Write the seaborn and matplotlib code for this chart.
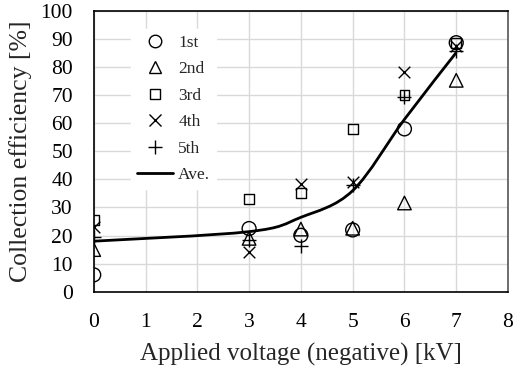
import numpy as np
import pandas as pd
import seaborn as sns
import matplotlib
matplotlib.use("Agg")
import matplotlib.pyplot as plt
from matplotlib.path import Path
from matplotlib.patches import PathPatch
from matplotlib.lines import Line2D

# ---- data ----
voltage = [0, 3, 4, 5, 6, 7]
run_1st = [6.0, 22.5, 20.1, 22.0, 58.0, 88.7]
run_2nd = [15.0, 19.0, 22.3, 22.6, 31.6, 75.3]
run_3rd = [25.5, 33.0, 35.1, 58.0, 70.0, 88.5]
run_4th = [23.0, 14.0, 38.5, 39.0, 78.2, 87.5]
run_5th = [19.5, 18.5, 16.3, 38.0, 69.3, 85.7]
average = [18.0, 21.4, 26.5, 36.0, 61.4, 85.2]
run_labels = ["1st", "2nd", "3rd", "4th", "5th"]
x_ticks = [0, 1, 2, 3, 4, 5, 6, 7, 8]
y_ticks = [0, 10, 20, 30, 40, 50, 60, 70, 80, 90, 100]

sns.set_theme(style="white")
plt.rcParams["font.family"] = ["Liberation Serif", "DejaVu Serif"]

fig = plt.figure(figsize=(5.13, 3.70), dpi=100)
ax = fig.add_axes([0.1827, 0.2116, 0.9903 - 0.1827, 0.9703 - 0.2116])

rows = []
for lab, vals in zip(run_labels, [run_1st, run_2nd, run_3rd, run_4th, run_5th]):
    for v, y in zip(voltage, vals):
        rows.append({"V": v, "eff": y, "run": lab})
df = pd.DataFrame(rows)

styles = {
    "1st": dict(marker="o", s=100, facecolors="none", edgecolors="black", linewidths=1.0),
    "2nd": dict(marker="^", s=95, facecolors="none", edgecolors="black", linewidths=1.0),
    "3rd": dict(marker="s", s=50, facecolors="none", edgecolors="black", linewidths=1.0),
    "4th": dict(marker="x", s=70, color="black", linewidths=1.0),
    "5th": dict(marker="+", s=110, color="black", linewidths=1.0),
}
for lab in run_labels:
    sub = df[df["run"] == lab]
    sns.scatterplot(data=sub, x="V", y="eff", ax=ax, legend=False, zorder=4, **styles[lab])

# smoothed average line (Catmull-Rom style Bezier through the average points)
P = np.column_stack([voltage, average]).astype(float)
n = len(P)
verts = [tuple(P[0])]
codes = [Path.MOVETO]
for i in range(n - 1):
    p0 = P[i - 1] if i > 0 else P[i]
    p1 = P[i]
    p2 = P[i + 1]
    p3 = P[i + 2] if i + 2 < n else P[i + 1]
    c1 = p1 + (p2 - p0) / 6.0
    c2 = p2 - (p3 - p1) / 6.0
    verts += [tuple(c1), tuple(c2), tuple(p2)]
    codes += [Path.CURVE4] * 3
ax.add_patch(PathPatch(Path(verts, codes), facecolor="none", edgecolor="black", lw=2.0, zorder=3))

ax.set_xlim(0, 8)
ax.set_ylim(0, 100)
ax.set_xticks(x_ticks)
ax.set_yticks(y_ticks)
ax.grid(True, color="#d9d9d9", lw=1.0, zorder=0)
ax.set_axisbelow(True)
for s in ax.spines.values():
    s.set_color("black")
    s.set_linewidth(1.2)
ax.spines["right"].set_color("#555555")
ax.tick_params(direction="in", length=6, width=1.2, labelsize=15.5, colors="black")
ax.tick_params(axis="x", pad=15)
ax.tick_params(axis="y", pad=15)
ax.set_xlabel("Applied voltage (negative) [kV]", fontsize=18, labelpad=8)
ax.set_ylabel("Collection efficiency [%]", fontsize=18.5, labelpad=6)

handles = [
    Line2D([], [], ls="none", marker="o", ms=9, mfc="none", mec="black", mew=1.0),
    Line2D([], [], ls="none", marker="^", ms=9, mfc="none", mec="black", mew=1.0),
    Line2D([], [], ls="none", marker="s", ms=6.5, mfc="none", mec="black", mew=1.0),
    Line2D([], [], ls="none", marker="x", ms=8, color="black", mew=1.0),
    Line2D([], [], ls="none", marker="+", ms=10, color="black", mew=1.0),
    Line2D([], [], color="black", lw=2.0),
]
leg = ax.legend(handles, run_labels + ["Ave."], loc="upper left", bbox_to_anchor=(0.091, 0.935),
                frameon=True, fontsize=12.5, handlelength=2.1, handletextpad=0.3,
                labelspacing=0.6, borderpad=0.3, borderaxespad=0.0)
leg.get_frame().set_facecolor("white")
leg.get_frame().set_edgecolor("white")
leg.get_frame().set_alpha(1.0)
leg.set_zorder(5)

fig.savefig("out.png", dpi=100)
